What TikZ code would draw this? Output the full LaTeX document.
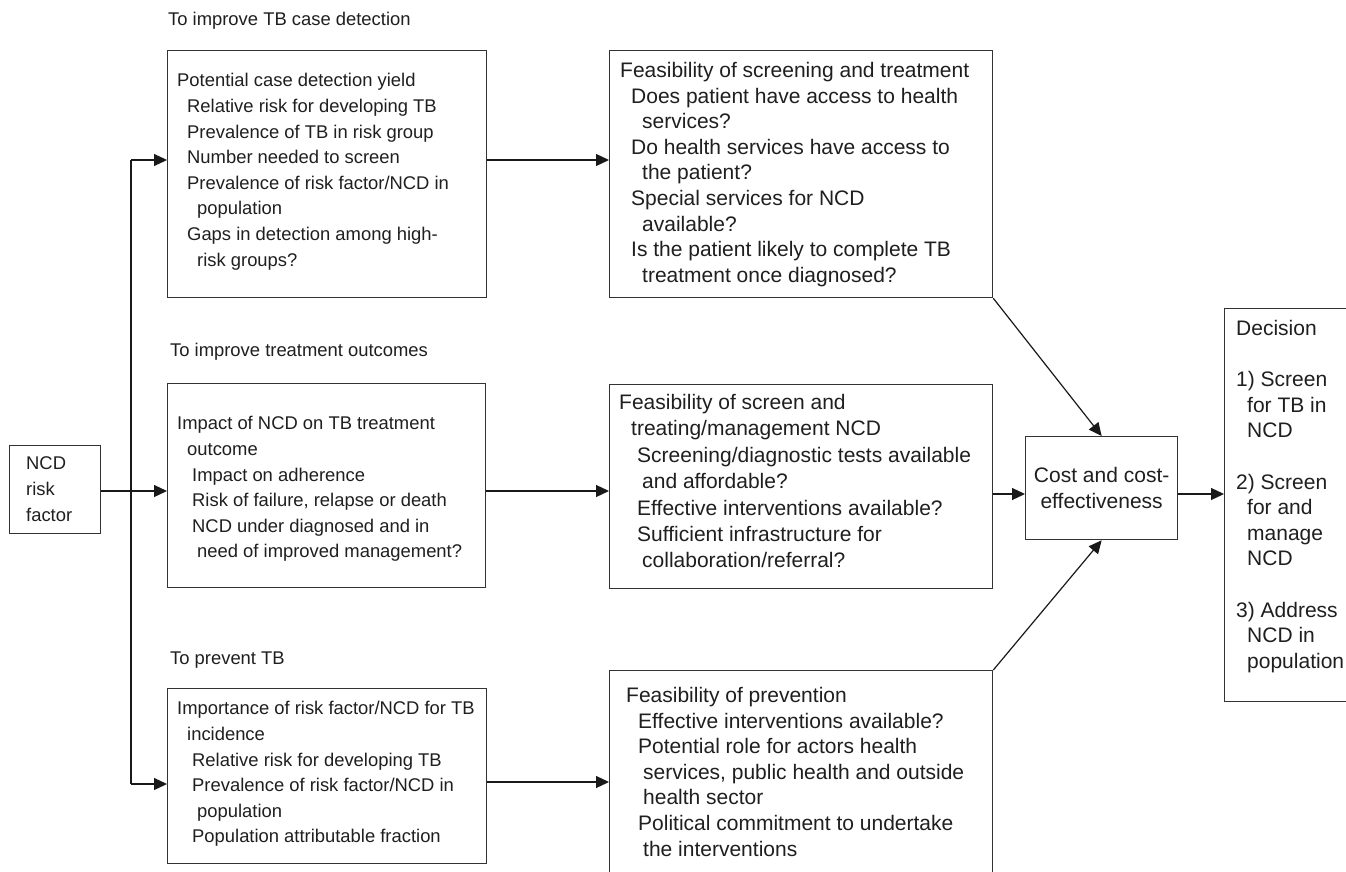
\documentclass[tikz,border=0pt]{standalone}
\usepackage{fontspec}
\setmainfont{Liberation Sans}
\usetikzlibrary{arrows.meta}
\newcommand\fl{\rule{0pt}{16pt}}
\begin{document}
\begin{tikzpicture}[x=1pt,y=-1pt,
  box/.style={draw=black!80,line width=1.3pt,inner sep=0pt,anchor=north west},
  sm/.style={font=\fontsize{18.4}{25.6}\selectfont,text=black!88},
  bg/.style={font=\fontsize{21}{25.6}\selectfont,text=black!88},
  txt/.style={align=left,anchor=north west,inner sep=0pt},
  ttl/.style={anchor=base west,inner sep=0pt},
  arr/.style={line width=1.2pt,draw=black!90,-{Triangle[length=13pt,width=12pt]}},
  ln/.style={line width=1.2pt,draw=black!90}]
\useasboundingbox (0,0) rectangle (1346,872);
\fill[white] (0,0) rectangle (1346,872);
\clip (0,0) rectangle (1346,872);

% titles
\node[ttl,sm] (t1) at (168,25.6) {To improve TB case detection};
\node[ttl,sm] (t2) at (170,356.6) {To improve treatment outcomes};
\node[ttl,sm] (t3) at (170,664.6) {To prevent TB};

% boxes
\node[box,minimum width=91pt,minimum height=88pt] (ncd) at (9,445) {};
\node[box,minimum width=319pt,minimum height=247pt] (a1) at (167,50) {};
\node[box,minimum width=383pt,minimum height=247pt] (b1) at (609,50) {};
\node[box,minimum width=318pt,minimum height=204pt] (a2) at (167,383) {};
\node[box,minimum width=383pt,minimum height=204pt] (b2) at (609,384) {};
\node[box,minimum width=319pt,minimum height=175pt] (a3) at (167,688) {};
\node[box,minimum width=383pt,minimum height=210pt] (b3) at (609,670) {};
\node[box,bg,minimum width=152pt,minimum height=103pt,align=center] (cost) at (1025,436) {Cost and cost-\\effectiveness};
\node[box,minimum width=140pt,minimum height=393pt] (dec) at (1224,308) {};

% texts
\node[txt,sm] (ncdt) at (26,453.6) {\fl NCD\\risk\\factor};

\node[txt,sm] (a1t) at (177,70.6) {\fl Potential case detection yield\\
\hspace*{10pt}Relative risk for developing TB\\
\hspace*{10pt}Prevalence of TB in risk group\\
\hspace*{10pt}Number needed to screen\\
\hspace*{10pt}Prevalence of risk factor/NCD in\\
\hspace*{20pt}population\\
\hspace*{10pt}Gaps in detection among high-\\
\hspace*{20pt}risk groups?};

\node[txt,bg] (b1t) at (620,61.3) {\fl Feasibility of screening and treatment\\
\hspace*{11pt}Does patient have access to health\\
\hspace*{22pt}services?\\
\hspace*{11pt}Do health services have access to\\
\hspace*{22pt}the patient?\\
\hspace*{11pt}Special services for NCD\\
\hspace*{22pt}available?\\
\hspace*{11pt}Is the patient likely to complete TB\\
\hspace*{22pt}treatment once diagnosed?};

\node[txt,sm] (a2t) at (177,413.6) {\fl Impact of NCD on TB treatment\\
\hspace*{10pt}outcome\\
\hspace*{15pt}Impact on adherence\\
\hspace*{15pt}Risk of failure, relapse or death\\
\hspace*{15pt}NCD under diagnosed and in\\
\hspace*{20pt}need of improved management?};

\node[txt,bg,font=\fontsize{21}{26.4}\selectfont] (b2t) at (619,393.3) {\fl Feasibility of screen and\\
\hspace*{12pt}treating/management NCD\\
\hspace*{18pt}Screening/diagnostic tests available\\
\hspace*{23pt}and affordable?\\
\hspace*{18pt}Effective interventions available?\\
\hspace*{18pt}Sufficient infrastructure for\\
\hspace*{23pt}collaboration/referral?};

\node[txt,sm] (a3t) at (177,698.6) {\fl Importance of risk factor/NCD for TB\\
\hspace*{10pt}incidence\\
\hspace*{15pt}Relative risk for developing TB\\
\hspace*{15pt}Prevalence of risk factor/NCD in\\
\hspace*{20pt}population\\
\hspace*{15pt}Population attributable fraction};

\node[txt,bg] (b3t) at (626,686.3) {\fl Feasibility of prevention\\
\hspace*{12pt}Effective interventions available?\\
\hspace*{12pt}Potential role for actors health\\
\hspace*{17pt}services, public health and outside\\
\hspace*{17pt}health sector\\
\hspace*{12pt}Political commitment to undertake\\
\hspace*{17pt}the interventions};

\node[txt,bg] (dect) at (1236,319.3) {\fl Decision\\
\mbox{}\\
1) Screen\\
\hspace*{11pt}for TB in\\
\hspace*{11pt}NCD\\
\mbox{}\\
2) Screen\\
\hspace*{11pt}for and\\
\hspace*{11pt}manage\\
\hspace*{11pt}NCD\\
\mbox{}\\
3) Address\\
\hspace*{11pt}NCD in\\
\hspace*{11pt}population};

% connectors
\coordinate (bt) at (131,160);
\coordinate (bb) at (131,784);
\coordinate (rm) at (0,491);
\coordinate (rb) at (0,782);
\draw[ln] (bt) -- (bb);
\draw[arr] (bt) -- (a1.west |- bt);
\draw[arr] (bb) -- (a3.west |- bb);
\draw[arr] (ncd.east |- rm) -- (a2.west |- rm);
\draw[arr] (a1.east |- bt) -- (b1.west |- bt);
\draw[arr] (a2.east |- rm) -- (b2.west |- rm);
\draw[arr] (a3.east |- rb) -- (b3.west |- rb);
\draw[arr] (b2.east |- 0,494) -- (cost.west |- 0,494);
\draw[arr] (cost.east |- 0,494) -- (dec.west |- 0,494);
\draw[arr] (b1.south east) -- (cost.north);
\draw[arr] (b3.north east) -- (cost.south);
\end{tikzpicture}
\end{document}
